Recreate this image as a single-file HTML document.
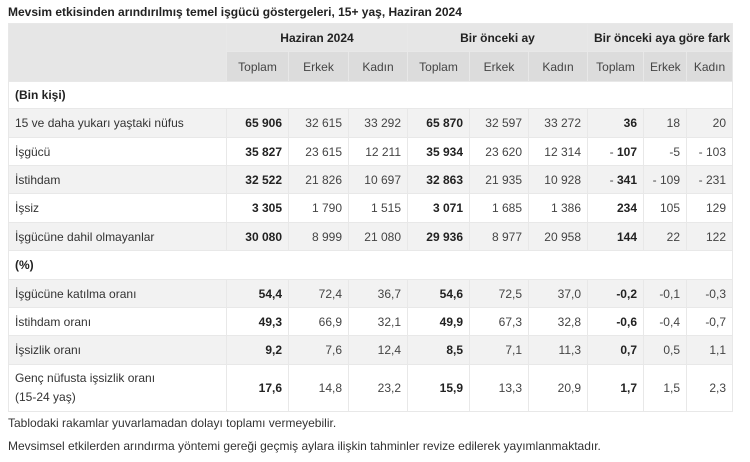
<!DOCTYPE html>
<html><head><meta charset="utf-8">
<style>
html,body{margin:0;padding:0;background:#fff;}
body{width:750px;height:462px;overflow:hidden;position:relative;font-family:"Liberation Sans",Arial,sans-serif;color:#333;}
.title{position:absolute;left:8px;top:5px;font-size:12px;font-weight:bold;color:#222;white-space:nowrap;}
table{position:absolute;left:8px;top:23px;border-collapse:collapse;table-layout:fixed;width:724px;font-size:12px;}
td,th{border:1px solid #e8e8e8;padding:0 6px 0 6px;white-space:nowrap;overflow:hidden;}
th{font-weight:normal;color:#444;}
.h1 th{background:#e6e6e6;font-weight:bold;color:#222;text-align:center;}
.h2 th{background:#dcdcdc;text-align:center;}
th.corner{background:#e6e6e6;}
td{text-align:right;color:#444;}
td.l{text-align:left;padding-left:6px;color:#333;}
tr.g td{background:#f2f2f2;}
tr.w td{background:#fff;}
b{color:#222;}
.note{position:absolute;left:8px;font-size:12px;color:#333;white-space:nowrap;}
</style></head><body>
<div class="title">Mevsim etkisinden arındırılmış temel işgücü göstergeleri, 15+ yaş, Haziran 2024</div>
<table>
<colgroup>
<col style="width:218px"><col style="width:62px"><col style="width:60px"><col style="width:59px"><col style="width:62px"><col style="width:59px"><col style="width:59px"><col style="width:56px"><col style="width:43px"><col style="width:46px">
</colgroup>
<tr class="h1" style="height:28px"><th class="corner" rowspan="2"></th><th colspan="3">Haziran 2024</th><th colspan="3">Bir önceki ay</th><th colspan="3">Bir önceki aya göre fark</th></tr>
<tr class="h2" style="height:30px"><th>Toplam</th><th>Erkek</th><th>Kadın</th><th>Toplam</th><th>Erkek</th><th>Kadın</th><th>Toplam</th><th>Erkek</th><th>Kadın</th></tr>
<tr class="w" style="height:27px"><td class="l" colspan="10"><b>(Bin kişi)</b></td></tr>
<tr class="g" style="height:29px"><td class="l">15 ve daha yukarı yaştaki nüfus</td><td><b>65 906</b></td><td>32 615</td><td>33 292</td><td><b>65 870</b></td><td>32 597</td><td>33 272</td><td><b>36</b></td><td>18</td><td>20</td></tr>
<tr class="w" style="height:28px"><td class="l">İşgücü</td><td><b>35 827</b></td><td>23 615</td><td>12 211</td><td><b>35 934</b></td><td>23 620</td><td>12 314</td><td>- <b>107</b></td><td>-5</td><td>- 103</td></tr>
<tr class="g" style="height:28px"><td class="l">İstihdam</td><td><b>32 522</b></td><td>21 826</td><td>10 697</td><td><b>32 863</b></td><td>21 935</td><td>10 928</td><td>- <b>341</b></td><td>- 109</td><td>- 231</td></tr>
<tr class="w" style="height:29px"><td class="l">İşsiz</td><td><b>3 305</b></td><td>1 790</td><td>1 515</td><td><b>3 071</b></td><td>1 685</td><td>1 386</td><td><b>234</b></td><td>105</td><td>129</td></tr>
<tr class="g" style="height:28px"><td class="l">İşgücüne dahil olmayanlar</td><td><b>30 080</b></td><td>8 999</td><td>21 080</td><td><b>29 936</b></td><td>8 977</td><td>20 958</td><td><b>144</b></td><td>22</td><td>122</td></tr>
<tr class="w" style="height:29px"><td class="l" colspan="10"><b>(%)</b></td></tr>
<tr class="g" style="height:28px"><td class="l">İşgücüne katılma oranı</td><td><b>54,4</b></td><td>72,4</td><td>36,7</td><td><b>54,6</b></td><td>72,5</td><td>37,0</td><td><b>-0,2</b></td><td>-0,1</td><td>-0,3</td></tr>
<tr class="w" style="height:28px"><td class="l">İstihdam oranı</td><td><b>49,3</b></td><td>66,9</td><td>32,1</td><td><b>49,9</b></td><td>67,3</td><td>32,8</td><td><b>-0,6</b></td><td>-0,4</td><td>-0,7</td></tr>
<tr class="g" style="height:29px"><td class="l">İşsizlik oranı</td><td><b>9,2</b></td><td>7,6</td><td>12,4</td><td><b>8,5</b></td><td>7,1</td><td>11,3</td><td><b>0,7</b></td><td>0,5</td><td>1,1</td></tr>
<tr class="w" style="height:47px"><td class="l" style="line-height:19px">Genç nüfusta işsizlik oranı<br>(15-24 yaş)</td><td><b>17,6</b></td><td>14,8</td><td>23,2</td><td><b>15,9</b></td><td>13,3</td><td>20,9</td><td><b>1,7</b></td><td>1,5</td><td>2,3</td></tr>
</table>
<div class="note" style="top:416px">Tablodaki rakamlar yuvarlamadan dolayı toplamı vermeyebilir.</div>
<div class="note" style="top:439px">Mevsimsel etkilerden arındırma yöntemi gereği geçmiş aylara ilişkin tahminler revize edilerek yayımlanmaktadır.</div>
</body></html>
